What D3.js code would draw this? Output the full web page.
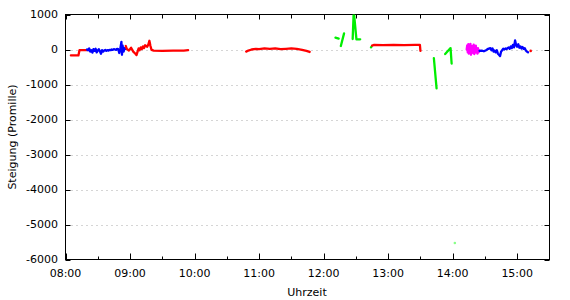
<!DOCTYPE html>
<html><head><meta charset="utf-8">
<script src="https://cdn.jsdelivr.net/npm/d3@7"></script>
<style>body{margin:0;background:#fff}svg{display:block}text{font-family:"DejaVu Sans",Verdana,sans-serif;font-size:11px;fill:#000}</style>
</head><body><svg id="c" width="570" height="300"></svg>
<script>
// ---- data (time HH:MM[:SS], Steigung in Promille) ----
const yTicks = [1000, 0, -1000, -2000, -3000, -4000, -5000, -6000];
const xTickLabels = ["08:00","09:00","10:00","11:00","12:00","13:00","14:00","15:00"];
const xMinorTicks = ["08:30","09:30","10:30","11:30","12:30","13:30","14:30"];

const red1 = [["08:05",-170],["08:12",-170],["08:13",-20],["08:20",-20]];
const blue1 = [["08:20",0],["08:21",-20],["08:22",30],["08:23",-60],["08:24",-20],["08:25",-90],["08:26",10],["08:27",-40],["08:28",20],["08:29",-80],["08:30",-30],["08:31",10],["08:32",-50],["08:33",-120],["08:34",-20],["08:35",-60],["08:36",-30],["08:37",-10],["08:38",-40],["08:39",-20],["08:40",-30],["08:41",-10],["08:42",-20],["08:43",0],["08:44",-10],["08:45",10],["08:46",0],["08:47",-10],["08:48",20],["08:49",10],["08:50",-100],["08:51",30],["08:52",220],["08:52:30",-150],["08:53",120],["08:54",-60],["08:55",40],["08:56",20]];
const red2 = [["08:56",100],["08:57",20],["08:59",-30],["09:01",50],["09:03",-60],["09:05",-120],["09:06",-160],["09:07",-60],["09:08",30],["09:09",-20],["09:10",60],["09:11",10],["09:12",90],["09:13",40],["09:14",120],["09:16",80],["09:17",140],["09:18",250],["09:19",100],["09:20",-10],["09:22",-30],["09:30",-40],["09:40",-30],["09:50",-30],["09:54",-20]];
const red3 = [["10:48",-60],["10:50",-30],["10:53",0],["10:57",20],["11:00",10],["11:05",30],["11:10",20],["11:15",30],["11:20",10],["11:25",20],["11:30",30],["11:35",20],["11:40",-10],["11:44",-40],["11:47",-70]];
const green1 = [["12:11",340],["12:14",310]];
const green2 = [["12:16",100],["12:19",460]];
const green3 = [["12:27",300],["12:28",1100],["12:30:30",290],["12:34",290]];
const green4 = [["12:44",60],["12:44:30",80]];
const red4 = [["12:45",110],["12:47",130],["12:55",125],["13:05",130],["13:15",125],["13:25",130],["13:29:30",130],["13:30",-40]];
const green5 = [["13:42:30",-250],["13:45",-1110]];
const green6 = [["13:53",-130],["13:58",40],["13:59",-400]];
const green7 = [["14:02",-5530]];
const magenta1 = [["14:13",0],["14:13:30",120],["14:14",-80],["14:14:30",150],["14:15",-120],["14:15:30",80],["14:16",-60],["14:16:30",160],["14:17",-150],["14:17:30",60],["14:18",-100],["14:18:30",100],["14:19",-40],["14:19:30",140],["14:20",-130],["14:20:30",50],["14:21",-90],["14:21:30",110],["14:22",-60],["14:22:30",30],["14:23",-120],["14:23:30",40],["14:24",-80],["14:25",-30]];
const blue2 = [["14:25",-40],["14:27",-30],["14:29",-50],["14:31",-20],["14:33",20],["14:35",40],["14:36",-20],["14:37",30],["14:38",-60],["14:39",-30],["14:40",-80],["14:41",-20],["14:42",-120],["14:43",-150],["14:44",-190],["14:45",-60],["14:46",-20],["14:47",20],["14:48",0],["14:49",30],["14:50",10],["14:51",40],["14:52",60],["14:53",20],["14:54",90],["14:55",40],["14:56",130],["14:57",60],["14:58",260],["14:59",120],["15:00",80],["15:01",150],["15:02",50],["15:03",90],["15:04",30],["15:05",70],["15:06",20],["15:07",40],["15:08",-30],["15:09",-60],["15:10",-80]];
const red5 = [["15:12:30",-40]];

const RED="#ff0000", BLUE="#0000ff", GREEN="#00ee00", MAG="#ff00ff";
const segments = [
  {d:red1,c:RED},{d:blue1,c:BLUE},{d:red2,c:RED},{d:red3,c:RED},
  {d:green1,c:GREEN},{d:green2,c:GREEN},{d:green3,c:GREEN},{d:green4,c:GREEN},
  {d:red4,c:RED},{d:green5,c:GREEN},{d:green6,c:GREEN},{d:green7,c:"#88ff88"},
  {d:magenta1,c:MAG},{d:blue2,c:BLUE},{d:red5,c:RED}
];

// ---- drawing ----
const parse = s => { const p = s.split(":").map(Number); return new Date(2000,0,1,p[0],p[1],p[2]||0); };
const svg = d3.select("#c");
const L = 65.5, R = 549.5, T = 14.5, B = 259.5;
const x = d3.scaleTime().domain([parse("08:00"), parse("15:30")]).range([L, R]);
const y = d3.scaleLinear().domain([-6000, 1000]).range([B, T]);

svg.append("defs").append("clipPath").attr("id","clip").append("rect")
  .attr("x",L).attr("y",T).attr("width",R-L).attr("height",B-T);

// horizontal grid only
const g = svg.append("g");
yTicks.forEach(v => {
  if (v === 1000 || v === -6000) return;
  g.append("line").attr("x1",L+1).attr("x2",R-1).attr("y1",Math.round(y(v))+0.5).attr("y2",Math.round(y(v))+0.5)
   .attr("stroke","#aaa").attr("stroke-dasharray","1,4");
});

// axes (ticks inside, mirrored)
const xMajor = xTickLabels.map(parse), xMinor = xMinorTicks.map(parse);
const ax = svg.append("g");
function vt(xx, y0, len){ ax.append("line").attr("x1",xx).attr("x2",xx).attr("y1",y0).attr("y2",y0+len).attr("stroke","#000"); }
xMajor.forEach(d => { const xx=Math.round(x(d))+0.5; vt(xx,B,-6); vt(xx,T,5); });
xMinor.forEach(d => { const xx=Math.round(x(d))+0.5; vt(xx,B,-3); vt(xx,T,4); });
yTicks.forEach(v => { const yy=Math.round(y(v))+0.5;
  ax.append("line").attr("x1",L).attr("x2",L+5).attr("y1",yy).attr("y2",yy).attr("stroke","#000");
  ax.append("line").attr("x1",R).attr("x2",R-5).attr("y1",yy).attr("y2",yy).attr("stroke","#000");
});
ax.append("rect").attr("x",L).attr("y",T).attr("width",R-L).attr("height",B-T).attr("fill","none").attr("stroke","#000");

// labels
yTicks.forEach(v => svg.append("text").attr("x",58).attr("y",y(v)).attr("dy","0.35em").attr("text-anchor","end").text(v));
xTickLabels.forEach(t => svg.append("text").attr("x",x(parse(t))).attr("y",273).attr("dy","0.35em").attr("text-anchor","middle").text(t));
svg.append("text").attr("x",307).attr("y",292).attr("dy","0.35em").attr("text-anchor","middle").text("Uhrzeit");
svg.append("text").attr("transform","translate(12,137) rotate(-90)").attr("dy","0.35em").attr("text-anchor","middle").text("Steigung (Promille)");

// data
const line = d3.line().x(d => x(parse(d[0]))).y(d => y(d[1]));
const dg = svg.append("g").attr("clip-path","url(#clip)");
segments.forEach(s => {
  if (s.d.length === 1) {
    dg.append("circle").attr("cx",x(parse(s.d[0][0]))).attr("cy",y(s.d[0][1])).attr("r",1.3).attr("fill",s.c);
  } else {
    dg.append("path").attr("d",line(s.d)).attr("fill","none").attr("stroke",s.c)
      .attr("stroke-width",2.3).attr("stroke-linejoin","round").attr("stroke-linecap","round");
  }
});
</script></body></html>
